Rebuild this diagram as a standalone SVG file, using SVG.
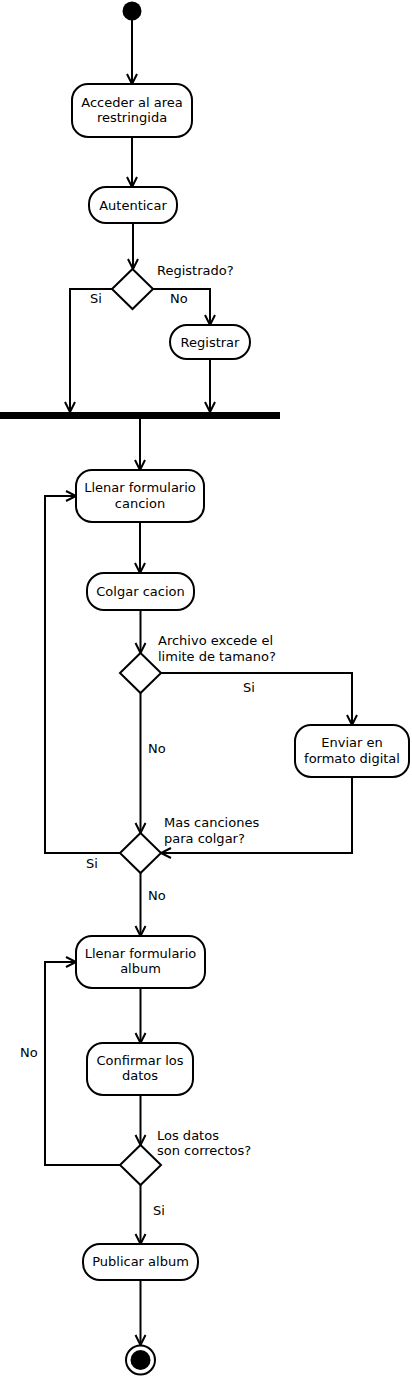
<svg xmlns="http://www.w3.org/2000/svg" width="412" height="1378" viewBox="0 0 412 1378">
<style>
.n{fill:#fff;stroke:#000;stroke-width:2}
.t{font-family:"DejaVu Sans",sans-serif;font-size:13px;fill:#000;text-anchor:middle}
.l{font-family:"DejaVu Sans",sans-serif;font-size:13px;fill:#000}
.c{fill:none;stroke:#000;stroke-width:2;marker-end:url(#a)}
</style>
<defs>
<marker id="a" markerUnits="userSpaceOnUse" markerWidth="12" markerHeight="12" refX="10" refY="5" orient="auto" overflow="visible">
<path d="M0,0 L10,5 L0,10" fill="none" stroke="#000" stroke-width="2"/>
</marker>
</defs>
<rect width="412" height="1378" fill="#fff"/>
<g id="connectors">
<path class="c" d="M132,20 V84"/>
<path class="c" d="M132,137 V187"/>
<path class="c" d="M133,223 V269"/>
<path class="c" d="M112,289 H70 V412"/>
<path class="c" d="M153,289 H210 V325"/>
<path class="c" d="M210,359 V412"/>
<path class="c" d="M140,419 V470"/>
<path class="c" d="M140,522 V573"/>
<path class="c" d="M140.5,610 V653"/>
<path class="c" d="M161,673 H352 V725"/>
<path class="c" d="M140.5,693 V833"/>
<path class="c" d="M352,777 V853 H161"/>
<path class="c" d="M120,853 H45 V496 H76"/>
<path class="c" d="M140.5,873 V936"/>
<path class="c" d="M140.5,988 V1043"/>
<path class="c" d="M140.5,1095 V1145"/>
<path class="c" d="M120.5,1165 H45 V962 H76"/>
<path class="c" d="M140.5,1185 V1244"/>
<path class="c" d="M140.5,1280 V1345"/>
<text class="l" x="157" y="275">Registrado?</text>
<text class="l" x="90" y="303">Si</text>
<text class="l" x="170" y="303">No</text>
<text class="l" x="158" y="645">Archivo excede el</text>
<text class="l" x="158" y="661">limite de tamano?</text>
<text class="l" x="243" y="692">Si</text>
<text class="l" x="148" y="753">No</text>
<text class="l" x="164" y="827">Mas canciones</text>
<text class="l" x="164" y="843">para colgar?</text>
<text class="l" x="86" y="868">Si</text>
<text class="l" x="148" y="900">No</text>
<text class="l" x="20" y="1057">No</text>
<text class="l" x="157" y="1140">Los datos</text>
<text class="l" x="157" y="1155">son correctos?</text>
<text class="l" x="153" y="1215">Si</text>
</g>
<g id="start"><circle cx="132" cy="11" r="9.5" fill="#000"/></g>
<g id="acceder"><rect class="n" x="72" y="84" width="120" height="53" rx="16"/><text class="t" x="132" y="107">Acceder al area</text><text class="t" x="132" y="122">restringida</text></g>
<g id="autenticar"><rect class="n" x="89" y="187" width="88" height="36" rx="17"/><text class="t" x="133" y="210">Autenticar</text></g>
<g id="d1"><path class="n" d="M132.5,269 L153,289 L132.5,309 L112,289 Z"/></g>
<g id="registrar"><rect class="n" x="170" y="325" width="80" height="34" rx="17"/><text class="t" x="210" y="347">Registrar</text></g>
<g id="bar"><rect x="0" y="412" width="280" height="7" fill="#000"/></g>
<g id="llenarCancion"><rect class="n" x="76" y="470" width="128" height="52" rx="16"/><text class="t" x="140" y="492">Llenar formulario</text><text class="t" x="140" y="508">cancion</text></g>
<g id="colgar"><rect class="n" x="87" y="573" width="107" height="37" rx="17"/><text class="t" x="140.5" y="596">Colgar cacion</text></g>
<g id="d2"><path class="n" d="M140.5,653 L161,673 L140.5,693 L120,673 Z"/></g>
<g id="enviar"><rect class="n" x="295" y="725" width="114" height="52" rx="16"/><text class="t" x="352" y="747">Enviar en</text><text class="t" x="352" y="763">formato digital</text></g>
<g id="d3"><path class="n" d="M140.5,833 L161,853 L140.5,873 L120,853 Z"/></g>
<g id="llenarAlbum"><rect class="n" x="76" y="936" width="129" height="52" rx="16"/><text class="t" x="140.5" y="958">Llenar formulario</text><text class="t" x="140.5" y="973">album</text></g>
<g id="confirmar"><rect class="n" x="87" y="1043" width="106" height="52" rx="16"/><text class="t" x="140" y="1065">Confirmar los</text><text class="t" x="140" y="1080">datos</text></g>
<g id="d4"><path class="n" d="M140.5,1145 L161,1165 L140.5,1185 L120,1165 Z"/></g>
<g id="publicar"><rect class="n" x="83" y="1244" width="115" height="36" rx="17"/><text class="t" x="140.5" y="1266">Publicar album</text></g>
<g id="end"><circle cx="140.5" cy="1360" r="14.5" fill="#fff" stroke="#000" stroke-width="2"/><circle cx="140.5" cy="1360" r="10" fill="#000"/></g>
</svg>
